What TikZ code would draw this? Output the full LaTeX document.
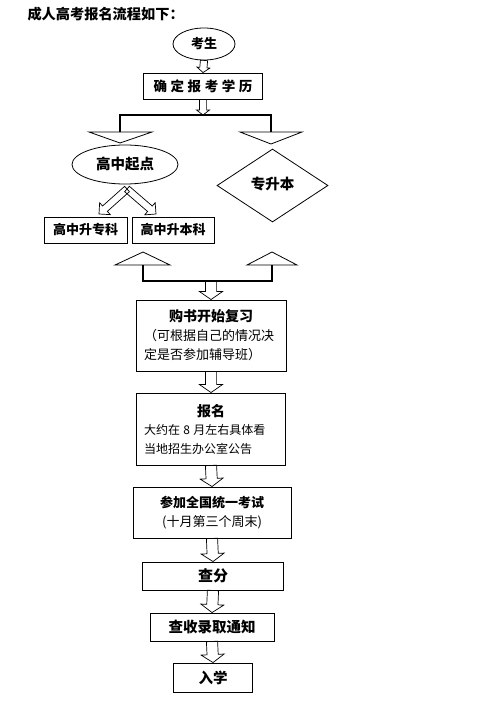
\documentclass[tikz,border=0pt]{standalone}
\usepackage{fontspec}
\setmainfont{Noto Sans CJK SC}
\usetikzlibrary{shapes.geometric,calc}
% hollow block arrow: from, to, half shaft width, half head width, head length
\newcommand\hollowarr[5]{%
  \coordinate (hC) at ($(#2)!#5!(#1)$);
  \draw[harrow] ($(#1)!#3!90:(#2)$) -- ($(hC)!#3!90:(#2)$) -- ($(hC)!#4!90:(#2)$) -- (#2)
    -- ($(hC)!#4!-90:(#2)$) -- ($(hC)!#3!-90:(#2)$) -- ($(#1)!#3!-90:(#2)$) -- cycle;
}
\newcommand\smallarr[2]{\hollowarr{#1}{#2}{3.6pt}{6.5pt}{5pt}}
\newcommand\bigarr[2]{\hollowarr{#1}{#2}{5.6pt}{11.5pt}{8pt}}
\newcommand\diagarr[2]{\hollowarr{#1}{#2}{3.6pt}{8pt}{8pt}}
\begin{document}
\begin{tikzpicture}[x=1pt,y=-1pt,
  box/.style={draw, line width=0.9pt, inner sep=0pt},
  oval/.style={draw, ellipse, line width=0.8pt, inner sep=0pt},
  harrow/.style={draw, line width=0.7pt, line join=miter},
  tri/.style={draw, line width=0.8pt},
  conn/.style={draw, line width=1.1pt},
  bf/.style={font=\bfseries\fontsize{#1}{#1}\selectfont}]
\useasboundingbox[fill=white] (0,0) rectangle (500,704);

\node[anchor=west, bf=14.2] (title) at (24,14) {成人高考报名流程如下：};

\node[oval, minimum width=62pt, minimum height=32pt, bf=13] (ks) at (204,44) {考生};
\node[box, minimum width=119pt, minimum height=26pt, bf=13.5] (qd) at (203,86)
  {确\hspace{3.6pt}定\hspace{3.6pt}报\hspace{3.6pt}考\hspace{3.6pt}学\hspace{3.6pt}历};
\coordinate (bt) at (203,115);
\smallarr{ks.south}{qd.north}
\smallarr{qd.south}{bt}

% upper bracket and inverted triangles
\coordinate (tl) at (120,132);
\coordinate (tr) at (271,132);
\draw[conn] (tl) -- ++(0,-17) -| (tr);
\draw[tri] (89,132) -- (152,132) -- (120,143) -- cycle;
\draw[tri] (240,132) -- (302,132) -- (271,144) -- cycle;

\node[oval, minimum width=106pt, minimum height=39pt, bf=14.5] (gz) at (125,164.5) {高中起点};
\node[draw, diamond, line width=0.8pt, inner sep=0pt, minimum width=111pt, minimum height=73pt, bf=14.5] (zsb) at (272.5,185.5) {\raisebox{4pt}{专升本}};

\coordinate (ds) at (127,189);
\coordinate (dl) at (99,214);
\coordinate (dr) at (156,214);
\diagarr{ds}{dl}
\diagarr{ds}{dr}

\node[box, minimum width=83pt, minimum height=26pt, bf=13] (zk) at (85.5,230) {高中升专科};
\node[box, minimum width=82pt, minimum height=26pt, bf=13] (bk) at (173,230) {高中升本科};

% lower triangles and bracket
\draw[tri] (115,265) -- (170,265) -- (143,252) -- cycle;
\draw[tri] (247,265) -- (297,265) -- (272,252) -- cycle;
\coordinate (bl) at (143,265);
\coordinate (br) at (272,265);
\draw[conn] (bl) -- ++(0,16) -| (br);
\coordinate (bb) at (211,281);

\node[box, minimum width=150pt, minimum height=71pt, text width=134pt] (gs) at (211,335.5)
  {\parindent=0pt\centering\bfseries\fontsize{14}{19}\selectfont 购书开始复习\par
   \raggedright\mdseries\fontsize{13}{19}\selectfont （可根据自己的情况决\par 定是否参加辅导班）\par};
\bigarr{bb}{gs.north}

\node[box, minimum width=149pt, minimum height=72pt, text width=134pt] (bm) at (211,429)
  {\parindent=0pt\centering\bfseries\fontsize{14}{19}\selectfont 报名\par
   \raggedright\mdseries\fontsize{12}{18.5}\selectfont 大约在~8~月左右具体看\par 当地招生办公室公告\par};
\bigarr{gs.south}{bm.north}

\node[box, minimum width=158pt, minimum height=51pt, align=center, font=\fontsize{13}{19}\selectfont] (ck) at (212,512.5)
  {{\bfseries 参加全国统一考试}\\(十月第三个周末)};
\bigarr{bm.south}{ck.north}

\node[box, minimum width=141pt, minimum height=28pt, bf=15] (cf) at (213,576) {查分};
\bigarr{ck.south}{cf.north}

\node[box, minimum width=124pt, minimum height=28pt, bf=14.5] (cs) at (212,627) {查收录取通知};
\bigarr{cf.south}{cs.north}

\node[box, minimum width=79pt, minimum height=29pt, bf=14.5] (rx) at (213,677.5) {入学};
\bigarr{cs.south}{rx.north}
\end{tikzpicture}
\end{document}
